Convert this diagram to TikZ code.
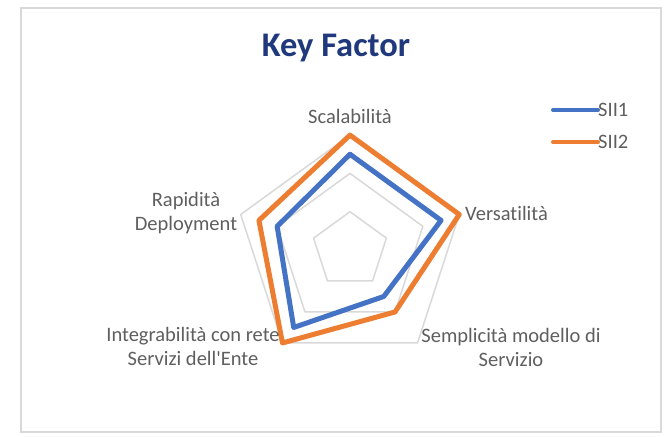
\documentclass[tikz,border=0pt]{standalone}
\usepackage{fontspec}
\setmainfont{Carlito}[Ligatures={NoCommon}]
\definecolor{labelgray}{RGB}{95,95,95}
\definecolor{gridgray}{RGB}{217,217,217}
\definecolor{framegray}{RGB}{217,217,217}
\definecolor{serieblue}{RGB}{68,114,196}
\definecolor{serieorange}{RGB}{237,125,49}
\definecolor{titleblue}{RGB}{32,56,124}
\begin{document}
\begin{tikzpicture}[x=1pt,y=1pt,
  lbl/.style={text=labelgray, font=\fontsize{20.5}{24}\selectfont, align=center, inner sep=0pt},
  ring/.style={draw=gridgray, line width=1.5pt, line join=round},
  sone/.style={draw=serieblue, line width=5pt, line join=round},
  stwo/.style={draw=serieorange, line width=5pt, line join=round}]
\useasboundingbox (0,0) rectangle (666,436);
\fill[white] (0,0) rectangle (666,436);
\draw[draw=framegray, line width=1.2pt] (21,4) rectangle (661,428);
\node[font=\fontsize{34.5}{38}\selectfont\bfseries, text=titleblue] (title) at (336,388) {Key Factor};
\def\R{38.3}
\begin{scope}[shift={(350,186)}]
  \foreach \k in {1,2,3}
    \draw[ring] (90:{\k*\R}) -- (18:{\k*\R}) -- (-54:{\k*\R}) -- (234:{\k*\R}) -- (162:{\k*\R}) -- cycle;
  \draw[sone] (90:{2.5*\R}) -- (18:{2.5*\R}) -- (-54:{1.5*\R}) -- (234:{2.5*\R}) -- (162:{2*\R}) -- cycle;
  \draw[stwo] (90:{3*\R}) -- (18:{3*\R}) -- (-54:{2*\R}) -- (234:{3*\R}) -- (162:{2.5*\R}) -- cycle;
\end{scope}
\node[lbl] (scal) at (350,320) {Scalabilità};
\node[lbl, anchor=west] (vers) at (465,223) {Versatilità};
\node[lbl] (sempl) at (511,89) {Semplicità modello di\\Servizio};
\node[lbl] (integ) at (193,90) {Integrabilità con rete\\Servizi dell\textquotesingle Ente};
\node[lbl] (rapid) at (186,223) {Rapidità\\Deployment};
\coordinate (leg1) at (553,326);
\coordinate (leg2) at (553,294);
\node[lbl, anchor=west] (sii1) at (598,326) {SII1};
\node[lbl, anchor=west] (sii2) at (598,294) {SII2};
\draw[sone, line width=4pt, line cap=round] (leg1) -- (sii1.west);
\draw[stwo, line width=4pt, line cap=round] (leg2) -- (sii2.west);
\end{tikzpicture}
\end{document}
